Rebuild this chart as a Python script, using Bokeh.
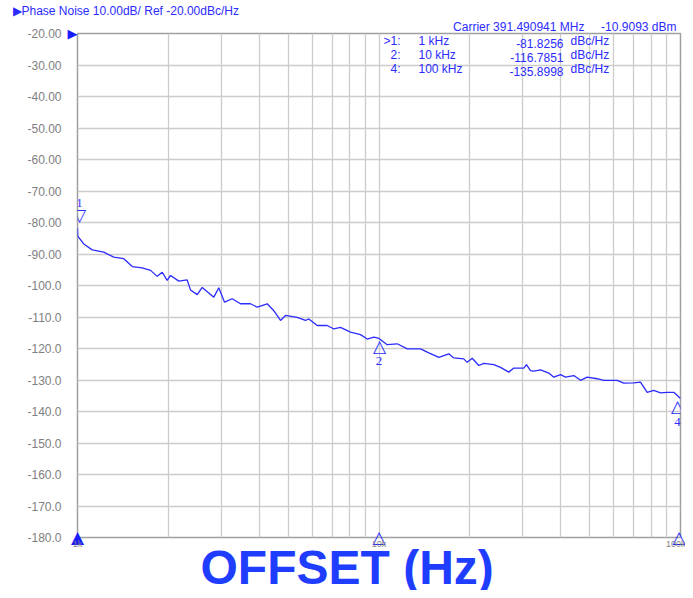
from bokeh.plotting import figure
from bokeh.models import (FixedTicker, Label, LabelSet, ColumnDataSource, LinearAxis,
                          LogAxis, Title)
from bokeh.embed import file_html
from bokeh.resources import INLINE

# ---- data ----
offset_hz = [1000, 1002, 1049, 1119, 1222, 1319, 1424, 1519, 1639, 1747, 1838, 1910,
             1984, 2035, 2168, 2311, 2370, 2495, 2592, 2832, 2942, 3074, 3260, 3472,
             3748, 3945, 4258, 4478, 4713, 4897, 5355, 5704, 5850, 6238, 6734, 7083,
             7451, 8044, 8682, 9140, 9612, 10000, 10646, 11493, 12406, 13728, 14630,
             15792, 17042, 17705, 19110, 19611, 20378, 21429, 22263, 24030, 25293,
             26945, 27995, 30220, 30846, 31806, 32623, 34343, 36583, 38002, 39994,
             41553, 44281, 46602, 49034, 52930, 55669, 61660, 64849, 70000, 73676,
             77520, 81527, 85830, 90332, 95018, 100000]
phase_noise_dbc = [-81.8, -84.3, -86.8, -88.7, -89.4, -91.0, -91.5, -94.0, -94.4, -95.2,
                   -97.1, -95.8, -98.4, -96.8, -98.6, -98.2, -101.4, -102.9, -100.6,
                   -103.7, -100.7, -105.3, -104.2, -105.8, -105.8, -106.9, -105.8, -108.0,
                   -111.1, -109.5, -110.1, -111.1, -110.6, -112.7, -112.7, -113.8, -113.3,
                   -114.8, -115.6, -117.0, -116.4, -116.8, -118.8, -118.5, -120.1, -120.1,
                   -121.4, -122.8, -121.7, -123.0, -123.3, -124.4, -123.1, -125.4, -124.7,
                   -125.1, -126.0, -127.5, -126.2, -126.2, -125.1, -127.0, -127.2, -126.8,
                   -127.8, -129.1, -128.3, -129.1, -128.6, -130.1, -129.1, -129.6, -130.1,
                   -130.1, -131.0, -130.9, -130.7, -133.9, -133.3, -134.1, -133.9, -133.9,
                   -135.9]

y_ticks = [-20, -30, -40, -50, -60, -70, -80, -90, -100, -110, -120, -130, -140,
           -150, -160, -170, -180]
y_tick_labels = ["-20.00", "-30.00", "-40.00", "-50.00", "-60.00", "-70.00", "-80.00",
                 "-90.00", "-100.0", "-110.0", "-120.0", "-130.0", "-140.0", "-150.0",
                 "-160.0", "-170.0", "-180.0"]
x_ticks = [1000, 10000, 100000]
x_tick_labels = ["1k", "10k", "100k"]
ref_level = -20

marker_ids = ["1", "2", "4"]
marker_rows = [">1:", "2:", "4:"]
marker_freqs = [1000, 10000, 100000]
marker_freq_labels = ["1 kHz", "10 kHz", "100 kHz"]
marker_values = [-81.8256, -116.7851, -135.8998]
marker_value_labels = ["-81.8256", "-116.7851", "-135.8998"]

title_text = "Phase Noise 10.00dB/ Ref -20.00dBc/Hz"
carrier_text = "Carrier 391.490941 MHz\u00a0\u00a0\u00a0\u00a0\u00a0-10.9093 dBm"
x_title = "OFFSET (Hz)"

BLUE = "#2b2bff"
FONT = "Liberation Sans"

p = figure(width=685, height=590, x_axis_type="log",
           x_range=(1000, 100000), y_range=(-180, -20),
           output_backend="svg", toolbar_location=None,
           min_border_left=77, min_border_right=5, min_border_top=33,
           min_border_bottom=53)
p.background_fill_color = "white"
p.border_fill_color = "white"
p.outline_line_color = "#a0a0a0"
p.outline_line_width = 1.5


def plain(ax):
    ax.axis_line_color = None
    ax.major_tick_line_color = None
    ax.minor_tick_line_color = None
    ax.major_tick_out = 0
    ax.minor_tick_out = 0
    ax.major_tick_in = 0
    ax.minor_tick_in = 0


# main axes
main_y = p.left[0]
main_x = p.below[0]
main_y.ticker = FixedTicker(ticks=y_ticks)
main_y.major_label_overrides = {t: l for t, l in zip(y_ticks, y_tick_labels)}
main_x.ticker = FixedTicker(ticks=x_ticks,
                            minor_ticks=[m * 10 ** e for e in (3, 4) for m in range(2, 10)])
main_x.major_label_overrides = {t: l for t, l in zip(x_ticks, x_tick_labels)}
for ax in (main_x, main_y):
    plain(ax)
    ax.major_label_text_font = FONT
    ax.major_label_text_color = "#808080"
main_y.major_label_text_font_size = "12px"
main_y.major_label_standoff = 3
main_x.major_label_text_font_size = "9px"
main_x.major_label_standoff = -11

# reference-level marker axis (left, next to frame)
ref_axis = LinearAxis(ticker=FixedTicker(ticks=[ref_level]),
                      major_label_overrides={ref_level: "▶"})
plain(ref_axis)
ref_axis.major_label_standoff = 0
ref_axis.major_label_text_color = "#1a1aff"
ref_axis.major_label_text_font = "DejaVu Sans"
ref_axis.major_label_text_font_size = "13px"
p.left = [ref_axis, main_y]

# marker triangles on the x axis (below, next to frame)
tri_axis = LogAxis(ticker=FixedTicker(ticks=marker_freqs),
                   major_label_overrides={marker_freqs[0]: "▲",
                                          marker_freqs[1]: "△",
                                          marker_freqs[2]: "△"})
plain(tri_axis)
tri_axis.major_label_standoff = -11
tri_axis.major_label_text_color = "#1a1aff"
tri_axis.major_label_text_font = "DejaVu Sans"
tri_axis.major_label_text_font_size = "17px"
p.below = [tri_axis, main_x]

for g in (p.xgrid, p.ygrid):
    g.grid_line_color = "#cccccc"
    g.grid_line_width = 1.3
p.xgrid.minor_grid_line_color = "#cccccc"
p.xgrid.minor_grid_line_width = 1.3

# titles
p.add_layout(Title(text=carrier_text, align="right", offset=4, standoff=0,
                   text_color=BLUE, text_font=FONT, text_font_size="12px",
                   text_font_style="normal"), "above")
p.add_layout(Title(text="▶" + title_text, align="left", offset=-65, standoff=0,
                   text_color=BLUE, text_font=FONT, text_font_size="12px",
                   text_font_style="normal"), "above")
p.add_layout(Title(text=x_title, align="left", offset=123, standoff=-26,
                   text_color="#1f3dff", text_font=FONT, text_font_size="48px",
                   text_font_style="bold"), "below")

# trace
p.line(offset_hz, phase_noise_dbc, line_color=BLUE, line_width=1.3)

# markers on trace
tri1 = ColumnDataSource(dict(x=marker_freqs[:1], y=marker_values[:1], t=["▽"],
                             n=marker_ids[:1]))
tri2 = ColumnDataSource(dict(x=marker_freqs[1:], y=marker_values[1:], t=["△", "△"],
                             n=marker_ids[1:], dx=[0, -3]))
p.add_layout(LabelSet(x="x", y="y", text="t", source=tri1, text_align="center",
                      text_baseline="middle", y_offset=13, x_offset=2, text_color=BLUE,
                      text_font_size="17px", text_font="DejaVu Sans"))
p.add_layout(LabelSet(x="x", y="y", text="n", source=tri1, text_align="center",
                      text_baseline="middle", y_offset=25, x_offset=2, text_color=BLUE,
                      text_font_size="12px", text_font=FONT))
p.add_layout(LabelSet(x="x", y="y", text="t", source=tri2, text_align="center",
                      text_baseline="middle", y_offset=-8, x_offset="dx", text_color=BLUE,
                      text_font_size="17px", text_font="DejaVu Sans"))
p.add_layout(LabelSet(x="x", y="y", text="n", source=tri2, text_align="center",
                      text_baseline="middle", y_offset=-23, x_offset="dx", text_color=BLUE,
                      text_font_size="13px", text_font=FONT))

# marker table
row_y = [490, 476, 462]
for i in range(3):
    p.add_layout(Label(x=323, y=row_y[i], x_units="screen", y_units="screen",
                       text=marker_rows[i], text_align="right", text_baseline="bottom",
                       text_color=BLUE, text_font=FONT, text_font_size="12px"))
    p.add_layout(Label(x=341, y=row_y[i], x_units="screen", y_units="screen",
                       text=marker_freq_labels[i], text_align="left", text_baseline="bottom",
                       text_color=BLUE, text_font=FONT, text_font_size="12px"))
    p.add_layout(Label(x=486, y=row_y[i], x_units="screen", y_units="screen",
                       text=marker_value_labels[i], text_align="right", text_baseline="bottom",
                       text_color=BLUE, text_font=FONT, text_font_size="12px"))
    p.add_layout(Label(x=493, y=row_y[i], x_units="screen", y_units="screen",
                       text="dBc/Hz", text_align="left", text_baseline="bottom",
                       text_color=BLUE, text_font=FONT, text_font_size="12px"))

open("out.html", "w").write(file_html(p, INLINE))
